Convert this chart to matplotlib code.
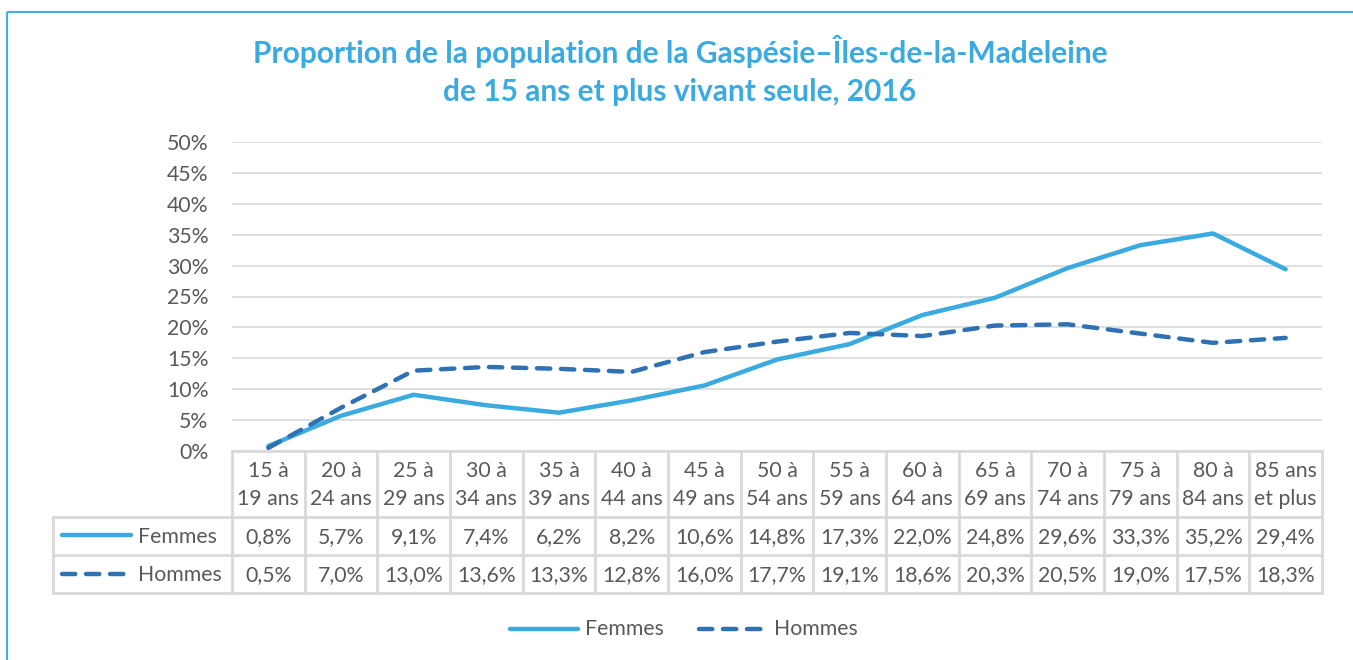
import matplotlib
matplotlib.use("Agg")
import matplotlib.pyplot as plt
from matplotlib.lines import Line2D
from matplotlib.patches import Rectangle

plt.rcParams['font.family'] = ['Lato', 'DejaVu Sans']

# data
groupes = ["15 à\n19 ans", "20 à\n24 ans", "25 à\n29 ans", "30 à\n34 ans", "35 à\n39 ans",
           "40 à\n44 ans", "45 à\n49 ans", "50 à\n54 ans", "55 à\n59 ans", "60 à\n64 ans",
           "65 à\n69 ans", "70 à\n74 ans", "75 à\n79 ans", "80 à\n84 ans", "85 ans\net plus"]
femmes = [0.8, 5.7, 9.1, 7.4, 6.2, 8.2, 10.6, 14.8, 17.3, 22.0, 24.8, 29.6, 33.3, 35.2, 29.4]
hommes = [0.5, 7.0, 13.0, 13.6, 13.3, 12.8, 16.0, 17.7, 19.1, 18.6, 20.3, 20.5, 19.0, 17.5, 18.3]
yticks = [0, 5, 10, 15, 20, 25, 30, 35, 40, 45, 50]

c_fem = "#3AAAE0"
c_hom = "#2E72B4"
c_txt = "#595959"
c_grid = "#D9D9D9"
fs = 15.3
dash = (0, (3, 2.4))

W, H = 1353, 660
fig = plt.figure(figsize=(W / 100, H / 100), dpi=100)

# overlay axes in pixel coordinates for frame, table, legend
ov = fig.add_axes([0, 0, 1, 1])
ov.set_xlim(0, W)
ov.set_ylim(H, 0)
ov.axis("off")

# main plot
x0, x1, y0, y1 = 232, 1322, 451, 142
ax = fig.add_axes([x0 / W, (H - y0) / H, (x1 - x0) / W, (y0 - y1) / H])
n = len(groupes)
xs = list(range(n))
ax.set_xlim(-0.5, n - 0.5)
ax.set_ylim(0, 50)
ax.set_yticks(yticks)
ax.set_yticklabels([f"{v}%" for v in yticks], color=c_txt, fontsize=fs)
ax.tick_params(axis="y", length=0, pad=17)
ax.set_xticks([])
for s in ax.spines.values():
    s.set_visible(False)
ax.grid(axis="y", color=c_grid, lw=1.2)
ax.set_axisbelow(True)
ax.patch.set_alpha(0)

ax.plot(xs, femmes, color=c_fem, lw=3.2, solid_capstyle="round", solid_joinstyle="round", zorder=3)
ax.plot(xs, hommes, color=c_hom, lw=3.2, ls=dash, dash_capstyle="round", zorder=4)

# frame
ov.add_patch(Rectangle((7, 12), W, H, fill=False, ec="#45AEE3", lw=1.5))

# title
ov.text(680, 52, "Proportion de la population de la Gaspésie–Îles-de-la-Madeleine",
        ha="center", va="center", fontsize=21.5, fontweight="bold", color="#3AAAE0")
ov.text(680, 92, "de 15 ans et plus vivant seule, 2016",
        ha="center", va="center", fontsize=21.5, fontweight="bold", color="#3AAAE0")

# data table
cw = (x1 - x0) / n
r0, r1, r2, r3 = 451, 517, 555, 593
lx = 53
tl = dict(color=c_grid, lw=2, zorder=1)
ov.plot([x0, x1], [r0, r0], **tl)
for r in (r1, r2, r3):
    ov.plot([lx, x1], [r, r], **tl)
ov.plot([lx, lx], [r1, r3], **tl)
for i in range(n + 1):
    ov.plot([x0 + i * cw, x0 + i * cw], [r0, r3], **tl)

for i, g in enumerate(groupes):
    cx = x0 + (i + 0.5) * cw
    ov.text(cx, (r0 + r1) / 2 + 1, g, ha="center", va="center", fontsize=fs,
            color=c_txt, linespacing=1.5)
    ov.text(cx, (r1 + r2) / 2 + 1, f"{femmes[i]:.1f}%".replace(".", ","),
            ha="center", va="center", fontsize=fs, color=c_txt)
    ov.text(cx, (r2 + r3) / 2 + 1, f"{hommes[i]:.1f}%".replace(".", ","),
            ha="center", va="center", fontsize=fs, color=c_txt)

# legend keys inside table
ov.add_line(Line2D([62, 131], [535, 535], color=c_fem, lw=3.2, solid_capstyle="round"))
ov.add_line(Line2D([62, 126], [574, 574], color=c_hom, lw=3.2, ls=dash, dash_capstyle="round"))
ov.text(138, (r1 + r2) / 2 + 1, "Femmes", ha="left", va="center", fontsize=fs, color=c_txt)
ov.text(138, (r2 + r3) / 2 + 1, "Hommes", ha="left", va="center", fontsize=fs, color=c_txt)

# bottom legend
ov.add_line(Line2D([510, 578], [629, 629], color=c_fem, lw=3.2, solid_capstyle="round"))
ov.text(585, 629, "Femmes", ha="left", va="center", fontsize=fs, color=c_txt)
ov.add_line(Line2D([699, 761], [629, 629], color=c_hom, lw=3.2, ls=dash, dash_capstyle="round"))
ov.text(774, 629, "Hommes", ha="left", va="center", fontsize=fs, color=c_txt)

fig.savefig("out.png", dpi=100)
